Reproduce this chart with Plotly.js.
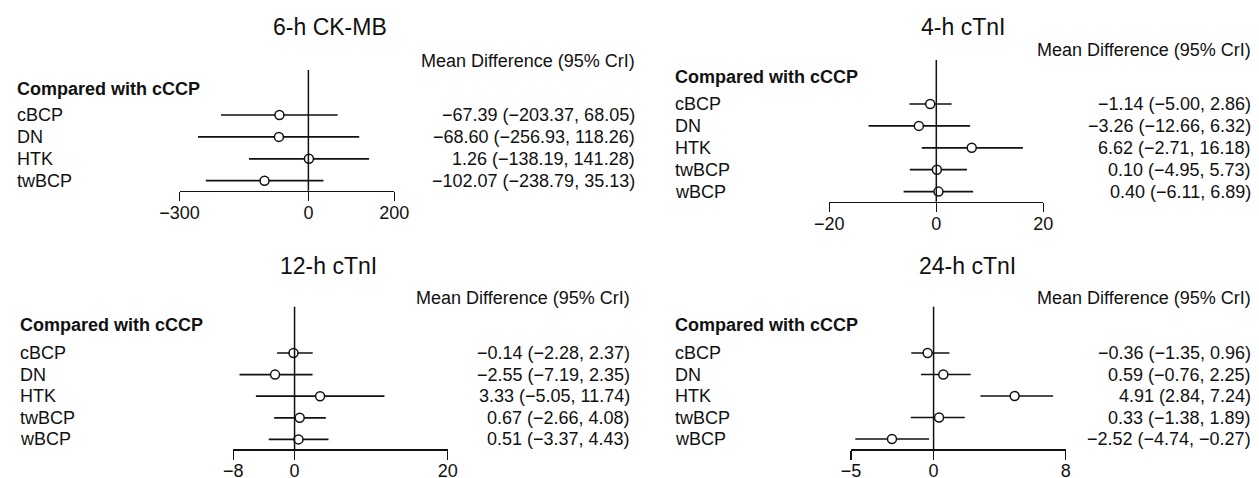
<!DOCTYPE html>
<html>
<head>
<meta charset="utf-8">
<script src="https://cdn.plot.ly/plotly-3.0.1.min.js"></script>
<style>
  html, body { margin: 0; padding: 0; background: #ffffff; }
  #chart { width: 1259px; height: 478px; }
</style>
</head>
<body>
<div id="chart"></div>
<script>
// Mean differences (95% CrI) of each cardioplegia versus cCCP
const ckmbTreatments = ['cBCP', 'DN', 'HTK', 'twBCP'];
const ckmbMean  = [-67.39, -68.60, 1.26, -102.07];
const ckmbLower = [-203.37, -256.93, -138.19, -238.79];
const ckmbUpper = [68.05, 118.26, 141.28, 35.13];
const ckmbTicks = [-300, 0, 200];

const tnTreatments = ['cBCP', 'DN', 'HTK', 'twBCP', 'wBCP'];

const tn4Mean  = [-1.14, -3.26, 6.62, 0.10, 0.40];
const tn4Lower = [-5.00, -12.66, -2.71, -4.95, -6.11];
const tn4Upper = [2.86, 6.32, 16.18, 5.73, 6.89];
const tn4Ticks = [-20, 0, 20];

const tn12Mean  = [-0.14, -2.55, 3.33, 0.67, 0.51];
const tn12Lower = [-2.28, -7.19, -5.05, -2.66, -3.37];
const tn12Upper = [2.37, 2.35, 11.74, 4.08, 4.43];
const tn12Ticks = [-8, 0, 20];

const tn24Mean  = [-0.36, 0.59, 4.91, 0.33, -2.52];
const tn24Lower = [-1.35, -0.76, 2.84, -1.38, -4.74];
const tn24Upper = [0.96, 2.25, 7.24, 1.89, -0.27];
const tn24Ticks = [-5, 0, 8];

const panelTitles = ['6-h CK-MB', '4-h cTnI', '12-h cTnI', '24-h cTnI'];
const headerText = 'Mean Difference (95% CrI)';
const groupText = 'Compared with cCCP';

// ---- page geometry (pixels) ----
const W = 1259, H = 478;
const FONT = '"Liberation Sans", Arial, Helvetica, sans-serif';
const INK = '#111111';

const panels = [
  { labels: ckmbTreatments, mean: ckmbMean, lo: ckmbLower, hi: ckmbUpper, ticks: ckmbTicks,
    x0: 179.5, x1: 394.3, top: 70, axis: 190.7, first: 115, step: 21.9,
    labelX: 15, textRight: 636.7, header: 61.5, group: 89.3, titleX: 330, titleY: 27 },
  { labels: tnTreatments, mean: tn4Mean, lo: tn4Lower, hi: tn4Upper, ticks: tn4Ticks,
    x0: 829.3, x1: 1043.3, top: 60, axis: 201.7, first: 104, step: 21.9,
    labelX: 673, textRight: 1253, header: 50, group: 77.3, titleX: 963, titleY: 27 },
  { labels: tnTreatments, mean: tn12Mean, lo: tn12Lower, hi: tn12Upper, ticks: tn12Ticks,
    x0: 233.3, x1: 447.7, top: 306.7, axis: 449.3, first: 353, step: 21.6,
    labelX: 18, textRight: 631.7, header: 298, group: 325, titleX: 328, titleY: 266 },
  { labels: tnTreatments, mean: tn24Mean, lo: tn24Lower, hi: tn24Upper, ticks: tn24Ticks,
    x0: 851, x1: 1065.7, top: 306.7, axis: 449.3, first: 353, step: 21.5,
    labelX: 673, textRight: 1253, header: 298, group: 325, titleX: 967, titleY: 266 }
];

function fmt(v) {
  return (v < 0 ? '\u2212' : '') + Math.abs(v).toFixed(2);
}

const traces = [];
const annotations = [];
const shapes = [];
const layout = {
  width: W, height: H,
  margin: { l: 0, r: 0, t: 0, b: 0, pad: 0 },
  paper_bgcolor: '#ffffff', plot_bgcolor: '#ffffff',
  showlegend: false,
  font: { family: FONT, size: 18, color: INK },
  annotations: annotations,
  shapes: shapes
};

panels.forEach((p, i) => {
  const xa = 'x' + (i === 0 ? '' : i + 1);
  const ya = 'y' + (i === 0 ? '' : i + 1);
  const xKey = 'xaxis' + (i === 0 ? '' : i + 1);
  const yKey = 'yaxis' + (i === 0 ? '' : i + 1);
  const rows = p.labels.map((_, k) => k);

  // credible interval segments
  const cx = [], cy = [];
  p.labels.forEach((_, k) => {
    cx.push(p.lo[k], p.hi[k], null);
    cy.push(k, k, null);
  });
  traces.push({
    type: 'scatter', mode: 'lines', x: cx, y: cy, xaxis: xa, yaxis: ya,
    line: { color: INK, width: 1.7 }, hoverinfo: 'skip', cliponaxis: false
  });
  // point estimates
  traces.push({
    type: 'scatter', mode: 'markers', x: p.mean, y: rows, xaxis: xa, yaxis: ya,
    marker: { symbol: 'circle', size: 9, color: '#ffffff', line: { color: INK, width: 1.5 } },
    cliponaxis: false, hoverinfo: 'skip'
  });

  const yBottom = (p.axis - p.first) / p.step;
  const yTop = (p.top - p.first) / p.step;

  layout[xKey] = {
    domain: [p.x0 / W, p.x1 / W],
    anchor: ya,
    range: [p.ticks[0], p.ticks[p.ticks.length - 1]],
    tickmode: 'array',
    tickvals: p.ticks,
    ticktext: p.ticks.map(t => (t < 0 ? '\u2212' : '') + Math.abs(t)),
    ticks: 'outside', ticklen: 9, tickwidth: 1.5, tickcolor: INK,
    ticklabelstandoff: -4,
    showline: true, linecolor: INK, linewidth: 1.5,
    showgrid: false, zeroline: false,
    tickfont: { family: FONT, size: 18, color: INK },
    fixedrange: true
  };
  layout[yKey] = {
    domain: [1 - p.axis / H, 1 - p.top / H],
    anchor: xa,
    range: [yBottom, yTop],
    visible: false, showgrid: false, zeroline: false, fixedrange: true
  };

  // reference line at zero, drawn over the points
  shapes.push({
    type: 'line', layer: 'above', xref: xa, yref: ya + ' domain',
    x0: 0, x1: 0, y0: 0, y1: 1,
    line: { color: INK, width: 1.5 }
  });

  // panel title
  annotations.push({
    xref: 'paper', yref: 'paper', x: p.titleX / W, y: 1 - p.titleY / H,
    xanchor: 'center', yanchor: 'middle', showarrow: false,
    text: panelTitles[i], font: { family: FONT, size: 23, color: INK }
  });
  // column header
  annotations.push({
    xref: 'paper', yref: 'paper', x: p.textRight / W, y: 1 - p.header / H,
    xanchor: 'right', yanchor: 'middle', showarrow: false,
    text: headerText, font: { family: FONT, size: 18, color: INK }
  });
  // group heading
  annotations.push({
    xref: 'paper', yref: ya, x: p.labelX / W, y: (p.group - p.first) / p.step,
    xanchor: 'left', yanchor: 'middle', showarrow: false,
    text: '<b>' + groupText + '</b>', font: { family: FONT, size: 18, color: INK }
  });
  // row labels and estimates
  p.labels.forEach((lab, k) => {
    annotations.push({
      xref: 'paper', yref: ya, x: p.labelX / W, y: k,
      xanchor: 'left', yanchor: 'middle', showarrow: false,
      text: lab, font: { family: FONT, size: 18, color: INK }
    });
    annotations.push({
      xref: 'paper', yref: ya, x: p.textRight / W, y: k,
      xanchor: 'right', yanchor: 'middle', showarrow: false,
      text: fmt(p.mean[k]) + ' (' + fmt(p.lo[k]) + ', ' + fmt(p.hi[k]) + ')',
      font: { family: FONT, size: 18, color: INK }
    });
  });
});

Plotly.newPlot('chart', traces, layout, { staticPlot: true, displayModeBar: false });
</script>
</body>
</html>
